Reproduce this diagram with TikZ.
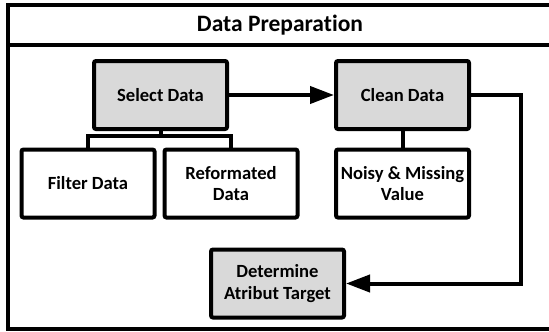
\documentclass[tikz,border=0pt]{standalone}
\usepackage{fontspec}
\setmainfont[Ligatures=NoCommon]{Carlito}
\usetikzlibrary{arrows.meta}
\definecolor{boxgray}{HTML}{D9D9D9}
\begin{document}
\begin{tikzpicture}[x=1pt, y=-1pt,
  box/.style={draw, line width=4pt, rounded corners=2pt,
    minimum width=133pt, minimum height=68pt, inner sep=0pt,
    align=center, font=\fontsize{18.6}{21.5}\selectfont\bfseries},
  proc/.style={box, fill=boxgray},
  link/.style={line width=4pt},
  flow/.style={link, -{Triangle[length=24pt, width=17pt]}},
  frame/.style={line width=3.8pt}]
  \clip (0,0) rectangle (549,332);

  % outer panel with its title bar
  \draw[frame] (8,5) rectangle (600,329);
  \draw[frame] (8,45) -- (600,45);
  \node[font=\fontsize{23.5}{26}\selectfont\bfseries] (title) at (280,25) {Data Preparation};

  % process steps
  \node[proc] (select) at (160.5,95) {Select Data};
  \node[proc] (clean)  at (402.5,95) {Clean Data};
  \node[box]  (filter) at (88,183.5) {Filter Data};
  \node[box]  (reform) at (231,183.5) {Reformated\\Data};
  \node[box]  (noisy)  at (402.5,183.5) {Noisy \& Missing\\Value};
  \node[proc] (target) at (277.5,283.5) {Determine\\Atribut Target};

  % sub-task tree under Select Data
  \coordinate (barL) at (88,135.5);
  \coordinate (barR) at (231,135.5);
  \draw[link] (select.south) -- (select.south |- barL);
  \draw[link] (filter.north) |- (barR) -- (reform.north);
  \draw[link] (clean.south) -- (noisy.north);

  % main flow
  \coordinate (turn) at (521,95);
  \draw[flow] (select.east) -- (clean.west);
  \draw[flow] (clean.east) -- (turn) |- (target.east);
\end{tikzpicture}
\end{document}
